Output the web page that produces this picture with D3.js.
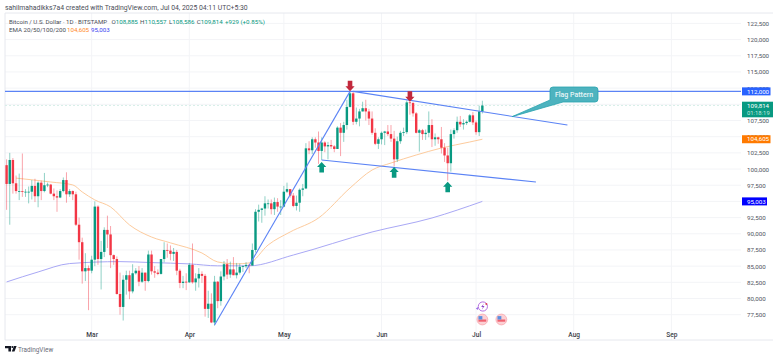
<!DOCTYPE html>
<html>
<head>
<meta charset="utf-8">
<script src="https://cdn.jsdelivr.net/npm/d3@7"></script>
<style>
  html, body { margin: 0; padding: 0; background: #fff; }
  svg { display: block; font-family: Roboto, "Open Sans", sans-serif; }
</style>
</head>
<body>
<div id="chart"></div>
<script>
// daily candles in thousands of dollars, first one is 2 Feb 2025
const firstDay = '2025-02-02'
const opens = [100.6,97.7,101.4,97.8,96.6,96.6,96.5,96.5,96.5,97.4,95.8,97.9,96.6,97.5,97.6,96.2,95.8,95.6,96.6,98.3,96.1,96.6,96.1,91.4,88.7,84.2,84.7,
  84.3,86,94.2,86.1,87.2,90.6,89.9,86.7,86.1,80.7,78.7,82.9,83.6,81.1,83.9,84.3,82.6,84,82.7,86.8,84.2,84,83.8,86.1,87.5,87.4,86.9,87.2,84.3,82.4,82.6,
  82.5,85.2,82.5,83.1,83.8,83.5,78.4,79.2,76.3,82.6,79.6,83.4,85.3,83.7,84.5,83.6,84,84.9,85,85.2,85.1,87.5,93.4,93.7,93.9,94.7,94.7,93.8,94.9,94.2,
  94.2,96.5,96.9,95.9,94.3,94.8,96.8,97,103.2,102.9,104.6,104.1,102.8,104.1,103.5,103.7,103.5,103.1,106.4,105.6,106.8,109.6,111.7,107.3,107.8,108.9,109.4,108.9,107.8,105.6,103.9,
  104.6,105.6,105.8,105.4,104.7,101.5,104.3,105.6,105.7,110.3,110.2,108.6,105.6,106,105.4,105.6,106.8,104.6,104.9,104.6,103.3,102.1,100.9,105.4,106,107.3,106.9,107.1,107.3,108.3,
  107.2,105.7,108.885]
const highs = [101.5,102.5,101.7,99,99.3,102.4,96.9,97.3,98.3,98.5,98.1,98.2,99.4,97.9,97.7,97,96.7,96.9,98.7,99.5,96.9,96.7,96.5,92.5,89.4,87,85.1,
  86.6,95,94.4,88.9,91,92.8,91.2,86.8,86.5,84,83.6,84.3,84.3,85.3,84.7,85,84.7,84,87.4,87.4,85,84.5,86.1,88.7,88.5,88.2,87.8,87.5,84.6,83.5,83.9,
  85.5,88.5,83.9,84.7,84.2,83.8,81.2,80.8,83.5,82.7,84.2,85.8,86.1,85.7,86.4,85.5,85.4,85.1,85.6,85.3,88.5,93.8,94.5,94,95.8,95.3,95.3,95.6,95.5,95.2,
  97.4,97.9,96.9,96.3,95.9,97,97.7,104,104.3,104.9,104.9,105.8,104.9,104.3,104.2,104.5,103.7,106.6,107.1,107.3,110.7,112,111.9,109.5,109.3,110.4,110.7,109.3,108.9,106.3,104.9,
  105.8,105.9,106.8,106.8,105.9,105,105.9,106.4,110.6,110.4,110.4,108.8,106.2,106.2,106.1,108.9,107.7,105.5,105,106.5,104,103.3,106.1,106.3,108.1,108.2,107.7,107.5,108.5,108.8,
  107.5,109.8,110.557]
const lows = [93.7,91.4,96.2,96.2,95.2,95.7,95.7,94.7,95.3,94.9,94.1,95.2,96.4,97.2,96.1,95.2,93.4,95.5,96.4,94.8,95.7,95.2,91.2,86,82.3,82.7,78.2,
  83.9,85,85.2,81.4,86.4,87.8,84.7,85.2,80.6,77.5,76.6,80.6,79.9,80.8,83.7,81.9,82.4,81.2,82.5,83.7,83.2,83.6,83.7,85.6,86.3,85.9,85.8,83.6,81.6,81.6,81.3,
  82.4,82.3,81.2,81.7,82.4,77.2,77,76.2,75.8,78.5,78.9,82.8,83,83.2,83.6,83.1,83.7,84.1,84.7,83.9,85.1,87.1,91.9,91.7,92.8,93.9,93,92.9,93.4,92.9,
  94.1,96.3,95.6,94.1,93.6,93.4,95.8,96.9,102.3,102.3,103.3,100.8,101.4,102.6,101.5,103.1,102.6,103.1,102,104.2,106.1,109.5,106.8,106.9,106.6,108.9,107.5,106.8,105.3,103.7,103.1,
  103.8,103.7,105.1,104.2,100.4,101.1,103.9,105.1,105.4,108.4,108.1,105.5,102.7,104.5,104.5,104.9,103.4,103.6,103.9,102.4,101.1,98.2,99.6,104.7,105.6,106.5,106.1,106.8,107.2,106.8,
  105.3,105.1,108.586]
const closes = [97.7,101.4,97.8,96.6,96.6,96.5,96.5,96.5,97.4,95.8,97.9,96.6,97.5,97.6,96.2,95.8,95.6,96.6,98.3,96.1,96.6,96.1,91.4,88.7,84.2,84.7,84.3,
  86,94.2,86.1,87.2,90.6,89.9,86.7,86.1,80.7,78.7,82.9,83.6,81.1,83.9,84.3,82.6,84,82.7,86.8,84.2,84,83.8,86.1,87.5,87.4,86.9,87.2,84.3,82.4,82.6,82.5,
  85.2,82.5,83.1,83.8,83.5,78.4,79.2,76.3,82.6,79.6,83.4,85.3,83.7,84.5,83.6,84,84.9,85,85.2,85.1,87.5,93.4,93.7,93.9,94.7,94.7,93.8,94.9,94.2,94.2,
  96.5,96.9,95.9,94.3,94.8,96.8,97,103.2,102.9,104.6,104.1,102.8,104.1,103.5,103.7,103.5,103.1,106.4,105.6,106.8,109.6,111.7,107.3,107.8,108.9,109.4,108.9,107.8,105.6,103.9,104.6,
  105.6,105.8,105.4,104.7,101.5,104.3,105.6,105.7,110.3,110.2,108.6,105.6,106,105.4,105.6,106.8,104.6,104.9,104.6,103.3,102.1,100.9,105.4,106,107.3,106.9,107.1,107.3,108.3,107.2,
  105.7,108.9,109.814]

// moving averages at these days
const ema50Days = ['2025-02-05','2025-02-16','2025-02-23','2025-02-26','2025-03-02','2025-03-07','2025-03-13','2025-03-20','2025-03-26','2025-04-05','2025-04-10','2025-04-16','2025-04-20','2025-04-26','2025-05-03','2025-05-12','2025-05-22','2025-05-29','2025-06-04','2025-06-12','2025-06-20','2025-06-29','2025-07-03']
const ema50Values = [98.6,98,97.55,96.46,95.23,94.15,91.37,89.5,88.6,87.03,85.65,85.35,85.5,88.27,90.28,92.44,97.07,99.85,100.93,102.17,103.25,104.18,104.605]
const ema200Days = ['2025-02-02','2025-02-12','2025-02-22','2025-03-10','2025-03-20','2025-04-01','2025-04-10','2025-04-20','2025-05-04','2025-05-29','2025-06-17','2025-07-03']
const ema200Values = [82.56,84.1,85.4,85.7,85.55,85.35,85.05,85.05,86.72,90.28,92.44,95.003]

// hand drawn lines on the chart: start day, start price, end day, end price
const drawnLines = [
  ['2025-04-09', 75.9, '2025-05-22', 112],
  ['2025-05-23', 112, '2025-07-30', 106.8],
  ['2025-05-13', 101.4, '2025-07-20', 98]
]
const levelLine = 112
const lastPrice = 109.814

// arrows: day, price at the arrow tip
const downArrows = [['2025-05-22', 112], ['2025-06-10', 110.4]]
const upArrows = [['2025-05-13', 101.1], ['2025-06-05', 100.3], ['2025-06-22', 98.05]]

const priceTicks = [122.5,120,117.5,115,112.5,110,107.5,105,102.5,100,97.5,95,92.5,90,87.5,85,82.5,80,77.5]
const hiddenTicks = [110, 95]   // sit fully behind the price tags
const monthTicks = ['2025-03-01','2025-04-01','2025-05-01','2025-06-01','2025-07-01','2025-08-01','2025-09-01']
const monthNames = ['Mar','Apr','May','Jun','Jul','Aug','Sep']

const priceLabels = [
  { v: 112, text: '112,000', color: '#2962ff', w: 28.5, h: 8 },
  { v: 104.605, text: '104,605', color: '#ff7a00', w: 28.5, h: 8 },
  { v: 95.003, text: '95,003', color: '#0000ff', w: 25, h: 8 }
]

const width = 780, height = 358
const plot = { left: 5, right: 741, top: 13, bottom: 340, edge: 773 }
const green = '#089981', red = '#f23645', lineBlue = '#5b83f5'

const parseDay = d3.utcParse('%Y-%m-%d')
const days = opens.map((d, i) => d3.utcDay.offset(parseDay(firstDay), i))

const x = d3.scaleUtc()
  .domain([parseDay('2025-02-02'), parseDay('2025-09-01')])
  .range([6.6, 671.4])
const y = d3.scaleLinear()
  .domain([122.5, 77.5])
  .range([23.4, 314.7])

const svg = d3.select('#chart').append('svg')
  .attr('width', width)
  .attr('height', height)

// frame and grid
svg.append('g').selectAll('line')
  .data(priceTicks)
  .join('line')
    .attr('x1', plot.left).attr('x2', plot.right)
    .attr('y1', d => y(d)).attr('y2', d => y(d))
    .attr('stroke', '#f3f4f7')
svg.append('g').selectAll('line')
  .data(monthTicks)
  .join('line')
    .attr('x1', d => x(parseDay(d))).attr('x2', d => x(parseDay(d)))
    .attr('y1', plot.top).attr('y2', plot.bottom)
    .attr('stroke', '#f3f4f7')
svg.append('path')
  .attr('d', `M${plot.edge},${plot.top}H${plot.left}V${plot.bottom}H${plot.edge}`)
  .attr('fill', 'none')
  .attr('stroke', '#e6e8ee')

// axes
const yAxis = svg.append('g')
  .attr('transform', `translate(${plot.right},0)`)
  .call(d3.axisRight(y).tickValues(priceTicks).tickSize(0).tickPadding(6)
    .tickFormat(d => hiddenTicks.includes(d) ? '' : d3.format(',')(d * 1000)))
yAxis.select('.domain').remove()
yAxis.selectAll('text').attr('font-size', 6.2).attr('fill', '#50535e').attr('font-family', 'Roboto')

const xAxis = svg.append('g')
  .attr('transform', `translate(0,${plot.bottom - 11})`)
  .call(d3.axisBottom(x).tickValues(monthTicks.map(parseDay)).tickSize(0).tickPadding(3)
    .tickFormat((d, i) => monthNames[i]))
xAxis.select('.domain').remove()
xAxis.selectAll('text').attr('font-size', 6.6).attr('font-weight', 500).attr('fill', '#3b3e48').attr('font-family', 'Roboto')

// last price dashes
svg.append('line')
  .attr('x1', plot.left).attr('x2', plot.right)
  .attr('y1', y(lastPrice)).attr('y2', y(lastPrice))
  .attr('stroke', '#d8efe9')
  .attr('stroke-dasharray', '2 2')

// moving averages
const lineGen = d3.line().x(d => x(d[0])).y(d => y(d[1])).curve(d3.curveMonotoneX)
svg.append('path')
  .attr('d', lineGen(ema200Days.map((d, i) => [parseDay(d), ema200Values[i]])))
  .attr('fill', 'none')
  .attr('stroke', '#a9a8f5')
  .attr('stroke-width', 1)
svg.append('path')
  .attr('d', lineGen(ema50Days.map((d, i) => [parseDay(d), ema50Values[i]])))
  .attr('fill', 'none')
  .attr('stroke', '#fdcb9d')
  .attr('stroke-width', 1)

// candles
const candles = svg.append('g').selectAll('g')
  .data(days)
  .join('g')
candles.append('line')
  .attr('x1', d => x(d)).attr('x2', d => x(d))
  .attr('y1', (d, i) => y(highs[i]))
  .attr('y2', (d, i) => y(lows[i]))
  .attr('stroke', (d, i) => closes[i] >= opens[i] ? green : red)
  .attr('stroke-opacity', 0.45)
candles.append('rect')
  .attr('x', d => x(d) - 1.2)
  .attr('width', 2.4)
  .attr('y', (d, i) => y(Math.max(opens[i], closes[i])))
  .attr('height', (d, i) => Math.max(0.8, Math.abs(y(opens[i]) - y(closes[i]))))
  .attr('fill', (d, i) => closes[i] >= opens[i] ? green : red)

// drawn lines
svg.append('line')
  .attr('x1', plot.left).attr('x2', plot.right)
  .attr('y1', y(levelLine)).attr('y2', y(levelLine))
  .attr('stroke', lineBlue)
  .attr('stroke-width', 1.1)
svg.append('g').selectAll('line')
  .data(drawnLines)
  .join('line')
    .attr('x1', d => x(parseDay(d[0]))).attr('y1', d => y(d[1]))
    .attr('x2', d => x(parseDay(d[2]))).attr('y2', d => y(d[3]))
    .attr('stroke', lineBlue)
    .attr('stroke-width', 1.1)

// arrows
const arrowPath = 'M0,0L4.6,-5H2.3V-10.6H-2.3V-5H-4.6Z'
svg.append('g').selectAll('path')
  .data(downArrows)
  .join('path')
    .attr('d', arrowPath)
    .attr('transform', d => `translate(${x(parseDay(d[0]))},${y(d[1])})`)
    .attr('fill', '#c2283c')
svg.append('g').selectAll('path')
  .data(upArrows)
  .join('path')
    .attr('d', arrowPath)
    .attr('transform', d => `translate(${x(parseDay(d[0]))},${y(d[1])}) scale(1,-1)`)
    .attr('fill', green)

// callout
svg.append('path')
  .attr('d', 'M512,116.7L550,100V90Q550,87 553,87H595Q598,87 598,90V99Q598,102 595,102H563Z')
  .attr('fill', '#4db3bf')
  .attr('stroke', '#2aa3ae')
  .attr('stroke-width', 0.8)
svg.append('text')
  .attr('x', 574).attr('y', 97)
  .attr('text-anchor', 'middle')
  .attr('font-size', 7)
  .attr('font-weight', 500)
  .attr('fill', '#e8f6f7')
  .text('Flag Pattern')

// price axis labels
const tags = svg.append('g').selectAll('g')
  .data(priceLabels)
  .join('g')
    .attr('transform', d => `translate(${plot.right + 1},${y(d.v) - d.h / 2})`)
tags.append('rect')
  .attr('width', d => d.w)
  .attr('height', d => d.h)
  .attr('fill', d => d.color)
tags.append('text')
  .attr('x', 5).attr('y', d => d.h / 2 + 2.2)
  .attr('font-size', 6.2)
  .attr('fill', '#fff')
  .text(d => d.text)
svg.append('rect')
  .attr('x', plot.right + 1).attr('y', 101.7)
  .attr('width', 31).attr('height', 15.6)
  .attr('fill', green)
svg.append('text')
  .attr('x', plot.right + 6).attr('y', 108.4)
  .attr('font-size', 6.2).attr('fill', '#fff')
  .text('109,814')
svg.append('text')
  .attr('x', plot.right + 6).attr('y', 115.2)
  .attr('font-size', 5.9).attr('fill', '#bfe6dd')
  .text('01:18:19')

// header text
svg.append('text')
  .attr('x', 5).attr('y', 10)
  .attr('font-size', 6.85)
  .attr('fill', '#4a4d57')
  .text('sahilmahadikks7a4 created with TradingView.com, Jul 04, 2025 04:11 UTC+5:30')

const legend = svg.append('g').attr('font-size', 6.2).attr('fill', '#4a4d57')
legend.append('text').attr('x', 9).attr('y', 24).attr('font-size', 6.1).text('Bitcoin / U.S. Dollar · 1D · BITSTAMP')
const ohlc = [['O','108,885',111.5],['H','110,557',140],['L','108,586',169],['C','109,814',196.7]]
for (const [key, val, lx] of ohlc) {
  const t = legend.append('text').attr('x', lx).attr('y', 24)
  t.append('tspan').text(key)
  t.append('tspan').attr('fill', green).text(val)
}
legend.append('text').attr('x', 225).attr('y', 24).attr('fill', green).text('+929 (+0.85%)')
legend.append('text').attr('x', 9).attr('y', 32.3).text('EMA 20/50/100/200')
legend.append('text').attr('x', 67).attr('y', 32.3).attr('fill', '#ff8a1f').text('104,605')
legend.append('text').attr('x', 91).attr('y', 32.3).attr('fill', '#3a3ff0').text('95,003')

// event badges under the last candles
const julyDay = parseDay('2025-07-03')
const badges = svg.append('g')
  .attr('transform', `translate(${x(julyDay)},0)`)
badges.append('circle')
  .attr('cx', 0.5).attr('cy', 306.5).attr('r', 4.6)
  .attr('fill', '#fff').attr('stroke', '#b56fe0').attr('stroke-width', 1)
badges.append('path')
  .attr('d', 'M1.5,303.5L-1.2,307H0.6L-0.5,309.7L2.2,306H0.4Z')
  .attr('fill', '#8e44c9')
badges.append('circle').attr('cx', 4).attr('cy', 304).attr('r', 1).attr('fill', '#e0405a')
badges.append('path').attr('d', 'M-6.5,308.5L-4.3,307V310Z').attr('fill', '#9a6de8')
for (const dx of [0, 19]) {
  const flag = badges.append('g').attr('transform', `translate(${dx},319.5)`)
  flag.append('circle').attr('r', 5.4).attr('fill', '#fbd0d4').attr('stroke', '#f9a7ae').attr('stroke-width', 0.8)
  flag.append('rect').attr('x', -3.9).attr('y', 0).attr('width', 7.8).attr('height', 2.2).attr('fill', '#f0616f')
  flag.append('rect').attr('x', -3.9).attr('y', -3.4).attr('width', 3.9).attr('height', 3.4).attr('fill', '#5b8fe0')
}

// tradingview mark
svg.append('path')
  .attr('d', 'M5,346H11V351.5H8.4V348.2H5ZM11.8,351.5L14,346H16.6L14.5,351.5Z')
  .attr('fill', '#131722')
svg.append('circle').attr('cx', 12.4).attr('cy', 347).attr('r', 1.1).attr('fill', '#131722')
svg.append('text')
  .attr('x', 18).attr('y', 352)
  .attr('font-size', 6.4)
  .attr('fill', '#6a6d78')
  .text('TradingView')
</script>
</body>
</html>
